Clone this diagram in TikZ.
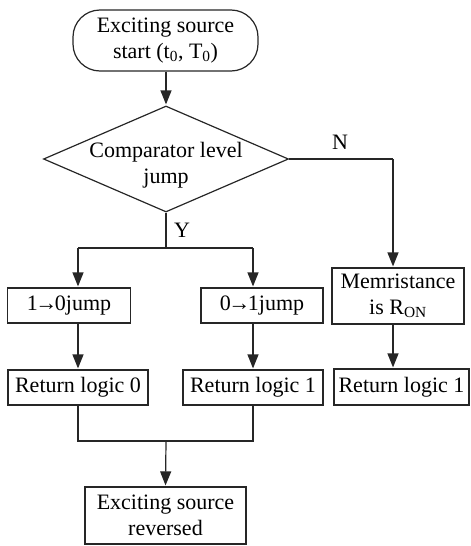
\documentclass[tikz,border=0pt]{standalone}
\usepackage{fontspec}
\setmainfont{Liberation Serif}
\usetikzlibrary{shapes.geometric,arrows.meta}
% tight arrow between digits
\newcommand{\jumparrow}{\kern-2.5pt→\kern-2.5pt}
\begin{document}
\begin{tikzpicture}[x=1pt,y=-1pt,
  font=\fontsize{22}{26}\selectfont,
  every node/.style={inner sep=0pt,align=center},
  flowline/.style={line width=1.2pt,draw=black!85},
  flowarrow/.style={flowline,-{Triangle[length=14pt,width=11pt]},shorten >=1pt},
  procbox/.style={draw=black!85,line width=1.2pt,rectangle},
  termbox/.style={procbox,rounded corners=27pt},
  decbox/.style={draw=black!85,line width=1.2pt,diamond}]
\useasboundingbox (0,0) rectangle (471,546);

% nodes
\node[termbox,minimum width=185pt,minimum height=61pt] (start) at (165.5,40.5)
  {Exciting source\\start (t\textsubscript{0}, T\textsubscript{0})};
\node[decbox,minimum width=245pt,minimum height=106pt] (dec) at (166,159) {};
\node (dectext) at (166,165) {Comparator level\\jump};
\node[procbox,minimum width=123pt,minimum height=35pt] (b10) at (69,305.5) {1\jumparrow 0jump};
\node[procbox,minimum width=122pt,minimum height=35pt] (b01) at (262,305.5) {0\jumparrow 1jump};
\node[procbox,minimum width=132pt,minimum height=56pt] (mem) at (398,296)
  {Memristance\\is R\textsubscript{ON}};
\node[procbox,minimum width=140pt,minimum height=35pt] (r0) at (78,387.5) {Return logic 0};
\node[procbox,minimum width=140pt,minimum height=35pt] (r1) at (253,387.5) {Return logic 1};
\node[procbox,minimum width=135pt,minimum height=36pt] (r1b) at (401.5,387) {Return logic 1};
\node[procbox,minimum width=161pt,minimum height=57pt] (rev) at (165.5,515.5)
  {Exciting source\\reversed};

% branch points
\coordinate (ysplit) at (166,248);
\coordinate (yl) at (78,248);
\coordinate (yr) at (253,248);
\coordinate (nturn) at (393,159);
\coordinate (ml) at (78,441);
\coordinate (mr) at (253,441);
\coordinate (mc) at (166,441);

% labels
\node (nlab) at (340,142) {N};
\node (ylab) at (182,230) {Y};

% connectors
\draw[flowarrow] (start.south -| dec.north) -- (dec.north);
\draw[flowline] (dec.south) -- (ysplit);
\draw[flowline] (yl) -- (yr);
\draw[flowarrow] (yl) -- (yl |- b10.north);
\draw[flowarrow] (yr) -- (yr |- b01.north);
\draw[flowline] (dec.east) -- (nturn);
\draw[flowarrow] (nturn) -- (nturn |- mem.north);
\draw[flowarrow] (yl |- b10.south) -- (r0.north);
\draw[flowarrow] (yr |- b01.south) -- (r1.north);
\draw[flowarrow] (nturn |- mem.south) -- (nturn |- r1b.north);
\draw[flowline] (r0.south) -- (ml) -- (mr) -- (r1.south);
\draw[flowarrow] (mc) -- (rev.north);
\end{tikzpicture}
\end{document}
